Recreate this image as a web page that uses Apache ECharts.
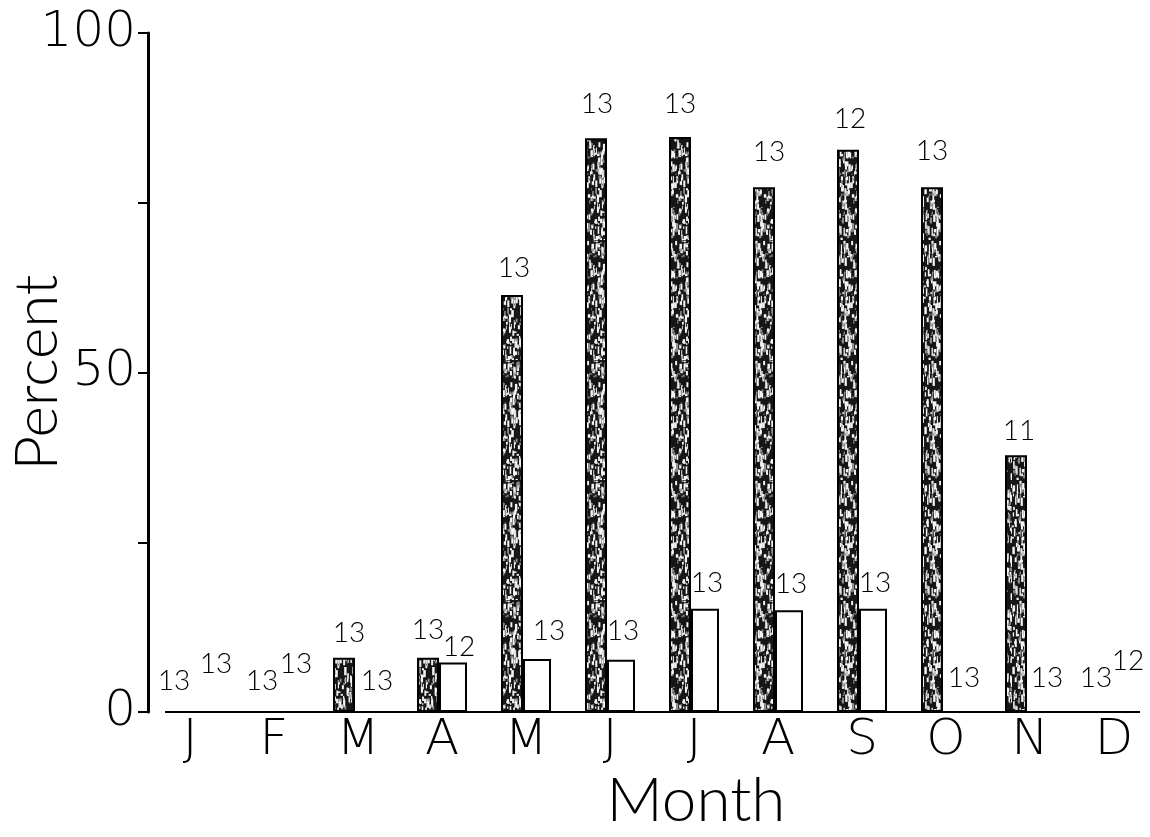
<!DOCTYPE html>
<html>
<head>
<meta charset="utf-8">
<script src="https://cdn.jsdelivr.net/npm/echarts@6/dist/echarts.min.js"></script>
<style>
  html, body { margin: 0; padding: 0; background: #fff; }
  #chart { width: 1150px; height: 837px; }
</style>
</head>
<body>
<div id="chart"></div>
<script>
// Monthly percentages for the two groups (stippled bars and open bars)
const months    = ['J', 'F', 'M', 'A', 'M', 'J', 'J', 'A', 'S', 'O', 'N', 'D'];
const shadedPct = [0, 0, 8.0, 8.0, 61.4, 84.5, 84.7, 77.3, 82.8, 77.3, 37.8, 0];
const openPct   = [0, 0, 0, 7.3, 7.8, 7.7, 15.2, 15.0, 15.2, 0, 0, 0];
// Sample size printed above each bar
const shadedN   = [13, 13, 13, 13, 13, 13, 13, 13, 12, 13, 11, 13];
const openN     = [13, 13, 13, 12, 13, 13, 13, 13, 13, 13, 13, 12];
// Labelled y ticks
const yTickLabels = [0, 50, 100];

// --- label placement tweaks (px): horizontal shift and height above bar top
const shadedShift = [-2, 2, 5, 0, 2, 1, 0, 5, 2, 0, 3, -4];
const shadedRise  = [30, 30, 25, 28, 27, 34, 33, 35, 31, 36, 24, 33];
const openShift   = [15, 11, 8, 6, 12, 2, 2, 2, 2, 7, 6, 3];
const openRise    = [47, 47, 30, 15, 28, 29, 26, 26, 26, 33, 33, 50];
const LABEL_HALF = 14;

const lightFont = "Lato, Roboto, 'Liberation Sans', sans-serif";
// condensed light face for the tick and month letters (falls back to normal width)
const tickFont  = "'DejaVu Sans', 'Liberation Sans', sans-serif";
const tickWeight = '200 condensed';

// Stippled fill: dark ground with light flecks, built from a fixed LCG sequence
function stippleTexture() {
  const c = document.createElement('canvas');
  c.width = 44; c.height = 120;
  const g = c.getContext('2d');
  g.fillStyle = '#161616';
  g.fillRect(0, 0, c.width, c.height);
  let s = 12345;
  const next = () => { s = (s * 1103515245 + 12345) % 2147483648; return s / 2147483648; };
  g.fillStyle = '#f4f4f4';
  for (let i = 0; i < 270; i++) {
    const x = next() * c.width, y = next() * c.height;
    const w = 0.8 + next() * 1.8, h = 1.5 + next() * 7;
    g.fillRect(x, y, w, h);
  }
  g.fillStyle = '#8c8c8c';
  for (let i = 0; i < 140; i++) {
    g.fillRect(next() * c.width, next() * c.height, 1 + next(), 1 + next() * 3);
  }
  return c;
}

function itemsWithLabels(values, shift, rise) {
  return values.map((v, i) => ({
    value: v,
    label: { offset: [shift[i], -(rise[i] - LABEL_HALF)] }
  }));
}

const labelStyle = {
  show: true,
  position: 'top',
  distance: 0,
  fontSize: 28,
  fontWeight: 300,
  color: '#000',
  fontFamily: lightFont
};

const chart = echarts.init(document.getElementById('chart'), null, { renderer: 'canvas' });

chart.setOption({
  backgroundColor: '#fff',
  animation: false,
  grid: { left: 148, top: 33, width: 1008, height: 679, containLabel: false, outerBoundsMode: 'none' },
  xAxis: [
    {
      type: 'category',
      data: months,
      boundaryGap: true,
      axisLine: { show: false },
      axisTick: { show: false },
      axisLabel: { fontSize: 50, color: '#000', margin: 4, fontFamily: tickFont, fontWeight: tickWeight },
      name: 'Month',
      nameLocation: 'middle',
      nameGap: 58,
      nameMoveOverlap: false,
      nameTextStyle: { fontSize: 62, color: '#000', fontFamily: lightFont, fontWeight: 300, padding: [0, 0, 0, 88] }
    },
    {
      // plain value scale used only for the baseline rule
      type: 'value', min: -0.5, max: 11.5, show: false
    }
  ],
  yAxis: {
    type: 'value',
    min: 0,
    max: 100,
    interval: 25,
    splitLine: { show: false },
    axisLine: { show: true, onZero: false, lineStyle: { color: '#000', width: 3 } },
    axisTick: { show: true, length: 10, lineStyle: { color: '#000', width: 2 } },
    axisLabel: {
      fontSize: 50, color: '#000', margin: 12, fontFamily: tickFont, fontWeight: tickWeight,
      formatter: v => (yTickLabels.includes(v) ? String(v) : '')
    },
    name: 'Percent',
    nameLocation: 'middle',
    nameRotate: 90,
    nameGap: 80,
    nameMoveOverlap: false,
    nameTextStyle: { fontSize: 60, color: '#000', fontFamily: lightFont, fontWeight: 300 }
  },
  series: [
    {
      type: 'line',
      xAxisIndex: 1,
      data: [[-0.25, 0], [11.31, 0]],
      symbol: 'none',
      silent: true,
      z: 1,
      lineStyle: { color: '#000', width: 2 }
    },
    {
      type: 'bar',
      barWidth: 22,
      barGap: '0%',
      z: 3,
      data: itemsWithLabels(shadedPct, shadedShift, shadedRise),
      itemStyle: { color: { image: stippleTexture(), repeat: 'repeat' }, borderColor: '#000', borderWidth: 2 },
      label: Object.assign({}, labelStyle, { formatter: p => String(shadedN[p.dataIndex]) })
    },
    {
      type: 'bar',
      barWidth: 28,
      barGap: '0%',
      z: 2,
      data: itemsWithLabels(openPct, openShift, openRise),
      itemStyle: { color: '#fff', borderColor: '#000', borderWidth: 2 },
      label: Object.assign({}, labelStyle, { formatter: p => String(openN[p.dataIndex]) })
    }
  ]
});
</script>
</body>
</html>
